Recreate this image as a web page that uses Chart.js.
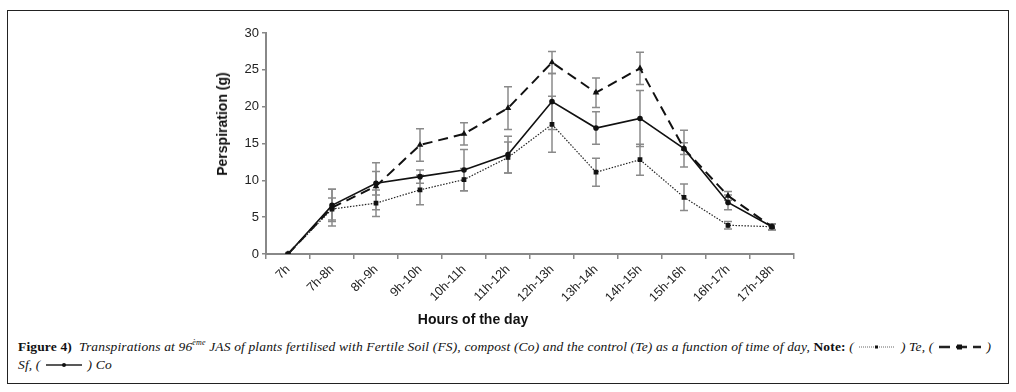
<!DOCTYPE html>
<html>
<head>
<meta charset="utf-8">
<script src="https://cdn.jsdelivr.net/npm/chart.js@4.4.1/dist/chart.umd.min.js"></script>
<style>
  body { margin: 0; background: #fff; width: 1016px; height: 392px; position: relative; overflow: hidden; }
  #frame { position: absolute; left: 7px; top: 10px; width: 1000px; height: 372px; border: 1.5px solid #222; }
  #wrap { position: absolute; left: 0; top: 0; width: 1016px; height: 330px; }
  .axt { position: absolute; font: bold 14px "Liberation Sans", Arial, sans-serif; color: #111; white-space: nowrap; }
  #xt { left: 473px; top: 319px; transform: translate(-50%, -50%); }
  #yt { left: 222px; top: 124px; transform: translate(-50%, -50%) rotate(-90deg); }
  #cap { position: absolute; left: 18px; top: 334px; width: 988px; font: italic 13.5px "Liberation Serif", "DejaVu Serif", serif; letter-spacing: 0.15px; color: #111; line-height: 18px; }
  #cap b { font-style: normal; }
  #cap svg { vertical-align: middle; }
</style>
</head>
<body>
<div id="frame"></div>
<div id="wrap"><canvas id="c" width="1016" height="330"></canvas></div>
<div class="axt" id="xt">Hours of the day</div>
<div class="axt" id="yt">Perspiration (g)</div>
<div id="cap"><b>Figure 4)</b>&nbsp; Transpirations at 96<sup style="font-size:8px">ème</sup> JAS of plants fertilised with Fertile Soil (FS), compost (Co) and the control (Te) as a function of time of day, <b>Note:</b> ( <svg width="40" height="8"><line x1="2" y1="4" x2="38" y2="4" stroke="#666" stroke-width="1" stroke-dasharray="1,1"/><rect x="18" y="2.5" width="3" height="3" fill="#111"/></svg> ) Te, ( <svg width="46" height="8"><line x1="2" y1="4" x2="44" y2="4" stroke="#222" stroke-width="2.5" stroke-dasharray="11,6"/><rect x="20" y="1.5" width="5" height="5" fill="#111"/></svg> )<br>Sf, ( <svg width="40" height="8"><line x1="2" y1="4" x2="38" y2="4" stroke="#222" stroke-width="1.3"/><circle cx="20" cy="4" r="2" fill="#111"/></svg> ) Co</div>
<script>
const hours = ['7h','7h-8h','8h-9h','9h-10h','10h-11h','11h-12h','12h-13h','13h-14h','14h-15h','15h-16h','16h-17h','17h-18h'];
const teValues = [0, 6.1, 6.9, 8.7, 10.1, 13.1, 17.6, 11.1, 12.8, 7.7, 3.9, 3.7];
const sfValues = [0, 6.3, 9.2, 14.8, 16.3, 19.8, 26.0, 21.9, 25.2, 14.3, 7.9, 3.7];
const coValues = [0, 6.6, 9.6, 10.5, 11.4, 13.5, 20.7, 17.1, 18.4, 14.3, 7.0, 3.7];
const teErr = [0, 1.5, 1.8, 2.0, 1.5, 2.1, 3.8, 1.9, 2.1, 1.8, 0.5, 0.4];
const sfErr = [0, 2.5, 3.2, 2.2, 1.5, 2.9, 1.5, 2.0, 2.2, 2.5, 0.6, 0.4];
const coErr = [0, 2.2, 1.6, 0.9, 2.8, 2.5, 3.8, 2.2, 3.8, 0.8, 1.0, 0.4];
const yTicks = [0, 5, 10, 15, 20, 25, 30];

const errs = [teErr, sfErr, coErr];

// gray error bars with caps, drawn under the lines
const errorBars = {
  id: 'errorBars',
  beforeDatasetsDraw(chart) {
    const ctx = chart.ctx, y = chart.scales.y;
    ctx.save();
    ctx.strokeStyle = '#8a8a8a';
    ctx.lineWidth = 1.5;
    chart.data.datasets.forEach((ds, i) => {
      const meta = chart.getDatasetMeta(i);
      meta.data.forEach((pt, j) => {
        const e = errs[i][j];
        if (!e) return;
        const top = y.getPixelForValue(ds.data[j] + e);
        const bot = y.getPixelForValue(ds.data[j] - e);
        ctx.beginPath();
        ctx.moveTo(pt.x, top); ctx.lineTo(pt.x, bot);
        ctx.moveTo(pt.x - 4, top); ctx.lineTo(pt.x + 4, top);
        ctx.moveTo(pt.x - 4, bot); ctx.lineTo(pt.x + 4, bot);
        ctx.stroke();
      });
    });
    ctx.restore();
  }
};

new Chart(document.getElementById('c'), {
  type: 'line',
  data: {
    labels: hours,
    datasets: [
      { label: 'Te', data: teValues, borderColor: '#222', borderWidth: 1.2, borderDash: [1.5, 1.5],
        pointStyle: 'rect', pointRadius: 2.5, pointBackgroundColor: '#111', pointBorderColor: '#111', tension: 0 },
      { label: 'Sf', data: sfValues, borderColor: '#111', borderWidth: 2, borderDash: [10, 6],
        pointStyle: 'triangle', pointRadius: 1.8, pointBackgroundColor: '#111', pointBorderColor: '#111', tension: 0 },
      { label: 'Co', data: coValues, borderColor: '#111', borderWidth: 1.6,
        pointStyle: 'circle', pointRadius: 2, pointBackgroundColor: '#111', pointBorderColor: '#111', tension: 0 }
    ]
  },
  options: {
    responsive: false,
    animation: false,
    layout: { padding: { left: 0, top: 33, right: 222, bottom: 0 } },
    plugins: { legend: { display: false }, tooltip: { enabled: false } },
    scales: {
      x: {
        offset: true,
        grid: { offset: true, drawOnChartArea: false, drawTicks: true, tickLength: 5, color: '#888', lineWidth: 1.5 },
        border: { color: '#888', width: 2 },
        ticks: { minRotation: 45, maxRotation: 45, padding: 3, color: '#222', font: { family: 'Liberation Sans', size: 12.5 } },
        afterFit(s) { s.height = 76; }
      },
      y: {
        min: 0, max: 30,
        afterBuildTicks(s) { s.ticks = yTicks.map(v => ({ value: v })); },
        grid: { drawOnChartArea: false, drawTicks: true, tickLength: 4, color: '#888', lineWidth: 1.5 },
        border: { color: '#888', width: 2 },
        ticks: { padding: 3, color: '#222', font: { family: 'Liberation Sans', size: 13 } },
        afterFit(s) { s.width = 266; }
      }
    }
  },
  plugins: [errorBars]
});
</script>
</body>
</html>
